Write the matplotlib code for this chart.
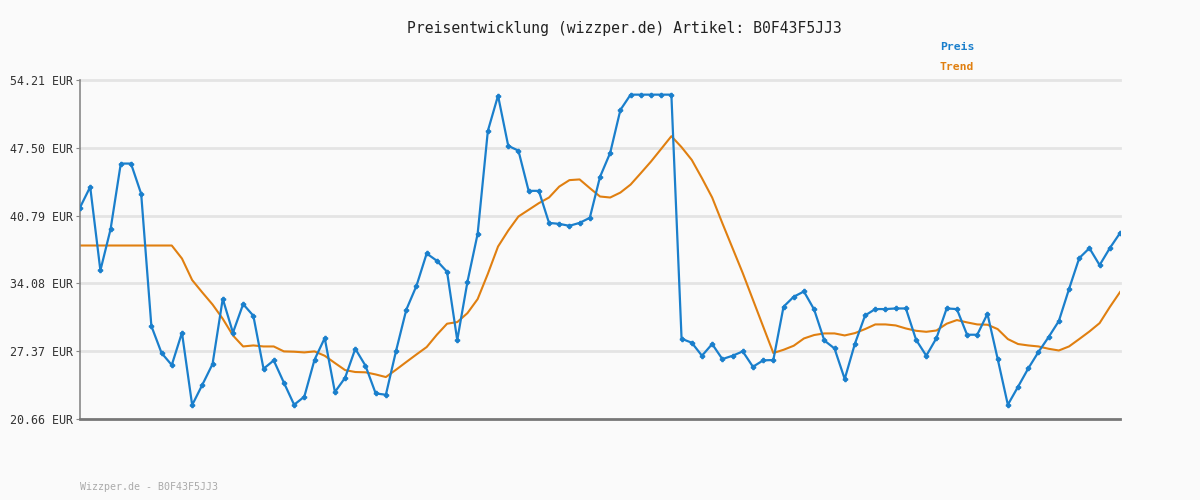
import matplotlib
matplotlib.use("Agg")
import matplotlib.pyplot as plt

# Preis (blue) and Trend (orange), one value per sample
preis = [41.59, 43.63, 35.36, 39.45, 45.94, 45.94, 42.94, 29.86, 27.19, 26.00,
         29.20, 22.04, 24.05, 26.10, 32.56, 29.20, 32.03, 30.88, 25.63, 26.46,
         24.25, 22.07, 22.87, 26.52, 28.67, 23.33, 24.74, 27.61, 25.93, 23.19,
         23.06, 27.41, 31.47, 33.84, 37.04, 36.32, 35.23, 28.47, 34.24, 38.99,
         49.17, 52.66, 47.69, 47.22, 43.24, 43.24, 40.07, 39.97, 39.78, 40.07,
         40.57, 44.62, 47.00, 51.25, 52.76, 52.76, 52.76, 52.76, 52.76, 28.60,
         28.21, 26.92, 28.08, 26.59, 26.92, 27.35, 25.83, 26.46, 26.50, 31.77,
         32.76, 33.28, 31.50, 28.43, 27.64, 24.62, 28.11, 30.91, 31.54, 31.54,
         31.60, 31.60, 28.50, 26.92, 28.67, 31.60, 31.54, 29.00, 29.00, 31.07,
         26.62, 22.07, 23.85, 25.66, 27.29, 28.77, 30.35, 33.52, 36.58, 37.57,
         35.89, 37.57, 39.06]

trend = [37.83, 37.83, 37.83, 37.83, 37.83, 37.83, 37.83, 37.83, 37.83, 37.83,
         36.54, 34.41, 33.18, 31.99, 30.58, 28.93, 27.84, 27.94, 27.84, 27.84,
         27.35, 27.32, 27.25, 27.35, 26.92, 26.20, 25.50, 25.31, 25.28, 25.07,
         24.81, 25.54, 26.30, 27.05, 27.78, 29.00, 30.09, 30.25, 31.14, 32.53,
         35.03, 37.73, 39.31, 40.70, 41.36, 42.02, 42.58, 43.66, 44.30, 44.37,
         43.51, 42.68, 42.58, 43.07, 43.86, 44.99, 46.14, 47.39, 48.65, 47.56,
         46.30, 44.49, 42.58, 40.04, 37.57, 35.10, 32.46, 29.82, 27.19, 27.51,
         27.91, 28.63, 28.97, 29.13, 29.13, 28.93, 29.16, 29.56, 30.02, 30.02,
         29.92, 29.62, 29.39, 29.29, 29.42, 30.09, 30.45, 30.22, 30.02, 29.99,
         29.56, 28.57, 28.08, 27.94, 27.84, 27.61, 27.44, 27.84, 28.57, 29.32,
         30.15, 31.74, 33.22]

y_ticks = [20.66, 27.37, 34.08, 40.79, 47.50, 54.21]
y_labels = ["20.66 EUR", "27.37 EUR", "34.08 EUR", "40.79 EUR", "47.50 EUR", "54.21 EUR"]

blue = "#1a7fcc"
orange = "#e07f10"
bg = "#fafafa"
mono = "DejaVu Sans Mono"

fig = plt.figure(figsize=(12, 5), dpi=100, facecolor=bg)
ax = fig.add_axes([80 / 1200, 1 - 419 / 500, 1040 / 1200, 339 / 500])
ax.set_facecolor(bg)

x = list(range(len(preis)))
ax.set_xlim(0, len(preis) - 1)
ax.set_ylim(y_ticks[0], y_ticks[-1])

for t in y_ticks[1:]:
    ax.axhline(t, color="#e4e4e4", lw=2, zorder=0, clip_on=False)

ax.plot(x, trend, color=orange, lw=1.5, zorder=2)
ax.plot(x, preis, color=blue, lw=1.6, marker="P", markersize=3, zorder=3)

ax.set_yticks(y_ticks)
ax.set_yticklabels(y_labels, family=mono, fontsize=8.4, color="#333333")
ax.set_xticks([])
ax.tick_params(axis="y", length=3, color="#888888", pad=2)

for side in ["top", "right"]:
    ax.spines[side].set_visible(False)
ax.spines["left"].set_color("#888888")
ax.spines["left"].set_linewidth(1.2)
ax.spines["bottom"].set_color("#777777")
ax.spines["bottom"].set_linewidth(2)

fig.text(624 / 1200, 1 - 28 / 500, "Preisentwicklung (wizzper.de) Artikel: B0F43F5JJ3",
         ha="center", va="center", family=mono, fontsize=10.6, color="#222222")
fig.text(940 / 1200, 1 - 47 / 500, "Preis", ha="left", va="center",
         family=mono, fontsize=8.2, color=blue, fontweight="bold")
fig.text(940 / 1200, 1 - 67 / 500, "Trend", ha="left", va="center",
         family=mono, fontsize=8.2, color=orange, fontweight="bold")
fig.text(80 / 1200, 1 - 487 / 500, "Wizzper.de - B0F43F5JJ3", ha="left", va="center",
         family=mono, fontsize=7.2, color="#aaaaaa")

fig.savefig("out.png", dpi=100, facecolor=bg)
